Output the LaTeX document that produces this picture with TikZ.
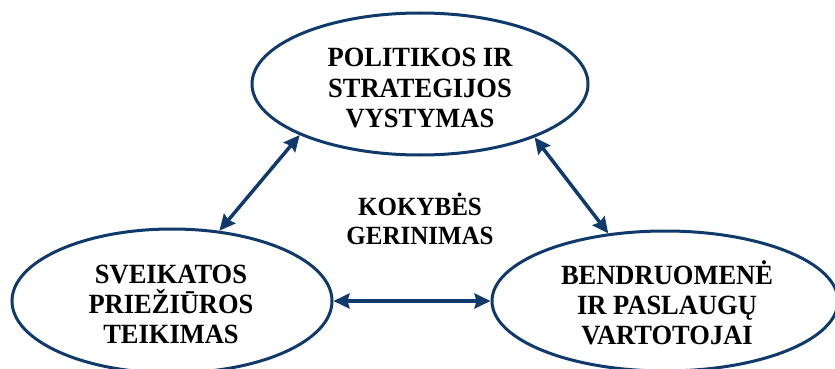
\documentclass[tikz,border=0pt]{standalone}
\usepackage{fontspec}
\setmainfont{Liberation Serif}
\usetikzlibrary{shapes.geometric,arrows.meta}
\definecolor{navy}{RGB}{16,58,108}
\tikzset{
  oval/.style={ellipse, draw=navy, line width=3pt, inner sep=0pt},
  caption/.style={align=center, inner sep=0pt, transform shape, yscale=1.05,
    font=\bfseries\fontsize{26.5}{28.6}\selectfont},
  link/.style={draw=navy, line width=3.5pt,
    {Stealth[length=16pt,width=15pt,inset=2pt]}-{Stealth[length=16pt,width=15pt,inset=2pt]}}
}
\begin{document}
\begin{tikzpicture}[x=1pt,y=-1pt]
  \useasboundingbox (0,0) rectangle (835,369);
  % the three spheres
  \node[oval, minimum width=336pt, minimum height=142pt] (pol) at (420,84) {};
  \node[oval, minimum width=320pt, minimum height=144pt] (svk) at (172,301) {};
  \node[oval, minimum width=346pt, minimum height=140pt] (bnd) at (665,301) {};
  % their titles
  \node[caption] (polt) at (420,88) {POLITIKOS IR\\STRATEGIJOS\\VYSTYMAS};
  \node[caption] (svkt) at (171,304) {SVEIKATOS\\PRIEŽIŪROS\\TEIKIMAS};
  \node[caption] (bndt) at (667,303) {BENDRUOMENĖ\\IR PASLAUGŲ\\VARTOTOJAI};
  \node[caption, font=\bfseries\fontsize{25}{27.6}\selectfont] (kok) at (420,219) {KOKYBĖS\\GERINIMAS};
  % two-way links
  \path[link] (svk.56) -- (pol.203);
  \path[link] (pol.335) -- (bnd.130);
  \path[link] (svk.0) -- (bnd.180);
\end{tikzpicture}
\end{document}
